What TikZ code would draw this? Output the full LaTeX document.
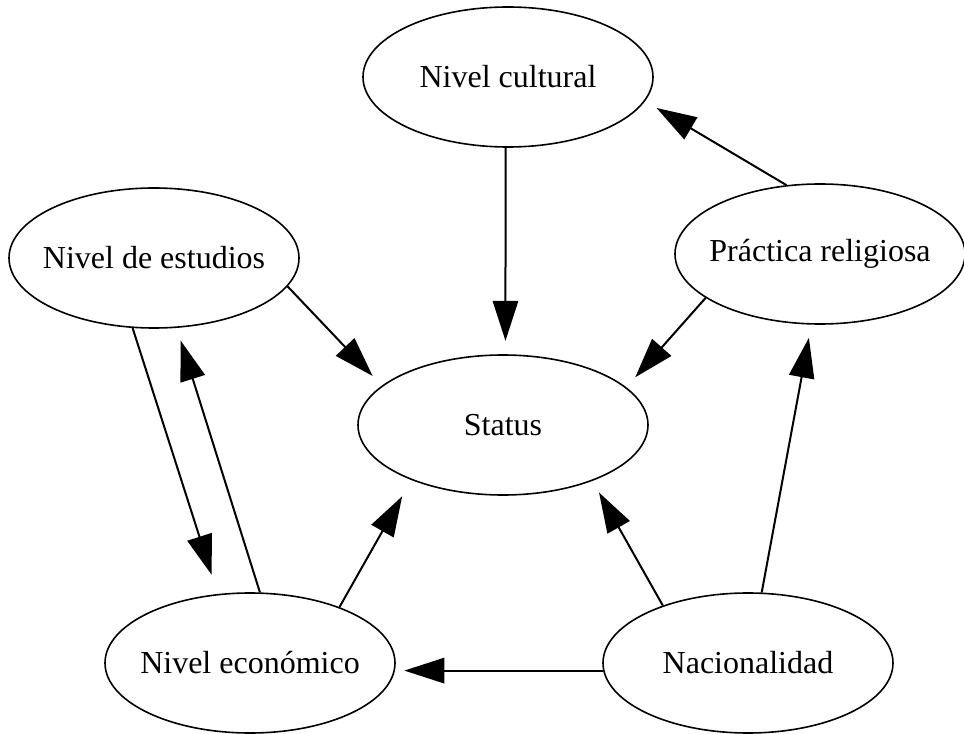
\documentclass[tikz,border=0pt]{standalone}
\usepackage{fontspec}
\setmainfont{Liberation Serif}
\usetikzlibrary{positioning,shapes,arrows.meta}

\begin{document}
\begin{tikzpicture}[
		x=0.75pt,y=-0.75pt,
		mynode/.style={draw,ellipse,line width=1.2pt,minimum width=217.5pt,minimum height=105pt,inner xsep=-10pt,inner ysep=0pt,font=\fontsize{24}{29}\selectfont},
		myarrow/.style={line width=1.5pt,-{Triangle[length=30pt,width=19pt]},shorten >=10pt}
	]
	\useasboundingbox (0,0) rectangle (964,734);
	\node[mynode] (Cultural) at (508,77) {Nivel cultural};
	\node[mynode] (Estudios) at (154,258) {Nivel de estudios};
	\node[mynode] (Religion) at (820,254) {Práctica religiosa};
	\node[mynode] (Status) at (503,425) {Status};
	\node[mynode] (Economico) at (250,663) {Nivel económico};
	\node[mynode] (Nacionalidad) at (748,663) {Nacionalidad};
	\path (Cultural.-92) edge[myarrow] (Status.88)
		(Religion.116) edge[myarrow] (Cultural.-10)
		(Religion.-159) edge[myarrow] (Status.17)
		(Estudios.-12) edge[myarrow] (Status.162)
		(Estudios.-107) edge[myarrow,shorten >=15pt] (Economico.115)
		(Economico.82) edge[myarrow] (Estudios.-72)
		(Economico.32) edge[myarrow,shorten >=14pt] (Status.-149)
		(Nacionalidad.146) edge[myarrow] (Status.-32)
		(Nacionalidad.79) edge[myarrow] (Religion.-97)
		(Nacionalidad.-177) edge[myarrow,shorten >=7pt] (Economico.-3);
\end{tikzpicture}
\end{document}
